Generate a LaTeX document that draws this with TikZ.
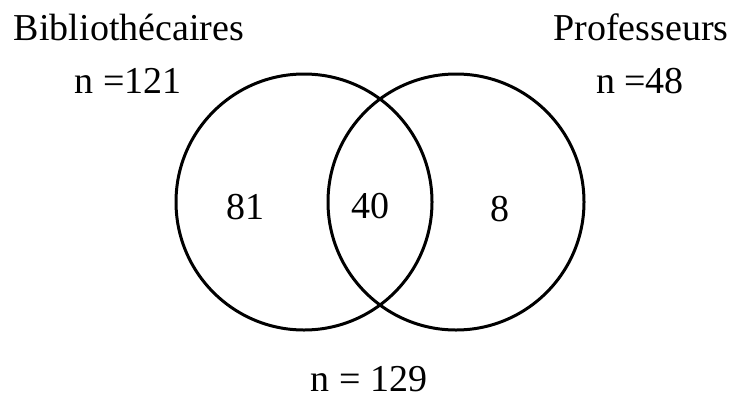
\documentclass[tikz,border=0pt]{standalone}
\usepackage{fontspec}
\setmainfont{Liberation Serif}
\usepackage{tikz}
\usetikzlibrary{positioning}
\definecolor{setcolor}{RGB}{0, 0, 0}
\definecolor{labelcolor}{RGB}{0, 0, 0}
\tikzset{
setcircle/.style={
  draw=setcolor,
  circle,
  line width=3pt,
  minimum size=256pt,
  inner sep=0pt
},
setlabel/.style={
  font=\fontsize{38}{45}\selectfont,
  text=labelcolor,
  anchor=base,
  inner sep=0pt
},
countlabel/.style={
  setlabel
}
}
\begin{document}
\begin{tikzpicture}[x=1pt, y=-1pt]
  \useasboundingbox (0,0) rectangle (733,402);

  % Sets
  \node[setcircle] (bib) at (304,202) {};
  \node[setcircle] (prof) at (456,202) {};

  % Set names and sizes
  \node[setlabel] (bibname) at (129,40) {Bibliothécaires};
  \node[setlabel] (bibn) at (128,93) {n =121};
  \node[setlabel] (profname) at (641,40) {Professeurs};
  \node[setlabel] (profn) at (640,93) {n =48};

  % Region counts
  \node[countlabel] (onlybib) at (245,219) {81};
  \node[countlabel] (both) at (370,218) {40};
  \node[countlabel] (onlyprof) at (500,221) {8};

  % Total
  \node[setlabel] (total) at (369,391) {n = 129};
\end{tikzpicture}
\end{document}
